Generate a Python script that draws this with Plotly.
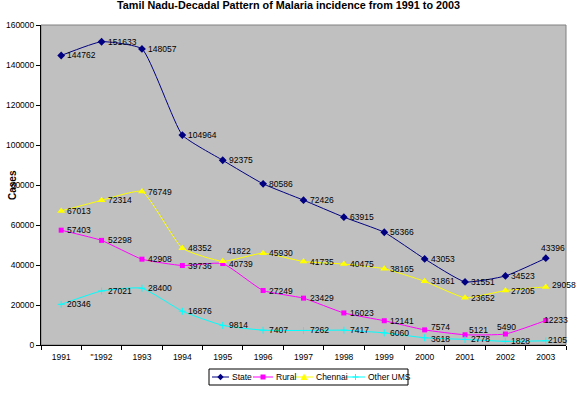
import plotly.graph_objects as go

years = ["1991", "\"1992", "1993", "1994", "1995", "1996", "1997", "1998", "1999", "2000", "2001", "2002", "2003"]
state = [144762, 151633, 148057, 104964, 92375, 80586, 72426, 63915, 56366, 43053, 31551, 34523, 43396]
rural = [57403, 52298, 42908, 39736, 40739, 27249, 23429, 16023, 12141, 7574, 5121, 5490, 12233]
chennai = [67013, 72314, 76749, 48352, 41822, 45930, 41735, 40475, 38165, 31861, 23652, 27205, 29058]
other_ums = [20346, 27021, 28400, 16876, 9814, 7407, 7262, 7417, 6060, 3618, 2778, 1828, 2105]

FONT = "Liberation Sans, Arial, sans-serif"
W, H = 577, 395
ML, MR, MT, MB = 41, 11, 25, 50
PW, PH = W - ML - MR, H - MT - MB


def px_x(px):
    return (px - ML) / PW


def px_y(py):
    return (H - MB - py) / PH


series = [
    ("State", state, "#000080", "diamond", 6),
    ("Rural", rural, "#FF00FF", "square", 5),
    ("Chennai", chennai, "#FFFF00", "triangle-up", 7),
    ("Other UMS", other_ums, "#00FFFF", "cross-thin", 5),
]

# label offsets (xshift, yshift) overrides; default right of the point
label_shift = {
    ("State", 12): (-7, 10),
    ("Rural", 9): (4, 3),
    ("Rural", 10): (2, 5),
    ("Rural", 11): (-10, 7),
    ("Rural", 12): (-4, 1),
    ("Chennai", 4): (2, 10),
    ("Chennai", 12): (4, 2),
    ("Other UMS", 9): (4, -1),
    ("Other UMS", 12): (0, 1),
}

fig = go.Figure()
annotations = []
shapes = []
for name, vals, color, sym, msize in series:
    mline = dict(width=1, color=color) if sym == "cross-thin" else dict(width=0)
    fig.add_trace(go.Scatter(
        x=years, y=vals, name=name, mode="lines+markers",
        line=dict(color=color, width=1, shape="spline", smoothing=0.45),
        marker=dict(symbol=sym, size=msize, color=color, line=mline),
        cliponaxis=False, showlegend=False,
    ))
    for i, v in enumerate(vals):
        xs, ys = label_shift.get((name, i), (4, 0))
        annotations.append(dict(
            x=i, y=v, text=str(v), showarrow=False,
            xanchor="left", yanchor="middle", xshift=xs, yshift=ys,
            font=dict(family=FONT, size=8.5, color="black"),
        ))

annotations.append(dict(
    xref="paper", yref="paper", x=0, y=0.5, xshift=-29, text="<b>Cases</b>",
    textangle=-90, showarrow=False, font=dict(family=FONT, size=10, color="black"),
    xanchor="center", yanchor="middle",
))

# custom compact legend (Excel style)
LEG_Y = 377
shapes.append(dict(type="rect", xref="paper", yref="paper",
                   x0=px_x(209), x1=px_x(408), y0=px_y(369), y1=px_y(385),
                   line=dict(color="black", width=1), fillcolor="white", layer="above"))
leg_items = [(212, 229), (253, 273), (295, 313), (346, 365)]
marker_paths = {
    "diamond": "M0,-3.2L3.2,0L0,3.2L-3.2,0Z",
    "square": "M-2.5,-2.5L2.5,-2.5L2.5,2.5L-2.5,2.5Z",
    "triangle-up": "M-3.5,-3L3.5,-3L0,3.5Z",
    "cross-thin": "M-3,0L3,0M0,-3L0,3",
}
for (name, vals, color, sym, msize), (lx0, lx1) in zip(series, leg_items):
    shapes.append(dict(type="line", xref="paper", yref="paper",
                       x0=px_x(lx0), x1=px_x(lx1), y0=px_y(LEG_Y), y1=px_y(LEG_Y),
                       line=dict(color=color, width=1), layer="above"))
    filled = sym != "cross-thin"
    shapes.append(dict(type="path", xref="paper", yref="paper",
                       xsizemode="pixel", ysizemode="pixel",
                       xanchor=px_x((lx0 + lx1) / 2), yanchor=px_y(LEG_Y),
                       path=marker_paths[sym],
                       fillcolor=color if filled else "rgba(0,0,0,0)",
                       line=dict(color=color, width=1 if not filled else 0), layer="above"))
    annotations.append(dict(xref="paper", yref="paper", x=px_x(lx1 + 1), y=px_y(LEG_Y),
                            text=name, showarrow=False, xanchor="left", yanchor="middle",
                            font=dict(family=FONT, size=8.5, color="black")))

shapes.append(dict(type="rect", xref="paper", yref="paper", x0=0, y0=0, x1=1, y1=1,
                   line=dict(color="#808080", width=1), layer="below"))

fig.update_layout(
    width=W, height=H,
    margin=dict(l=ML, r=MR, t=MT, b=MB, autoexpand=False),
    paper_bgcolor="white", plot_bgcolor="#C0C0C0",
    title=dict(text="<b>Tamil Nadu-Decadal Pattern of Malaria incidence from 1991 to 2003</b>",
               x=0.5, xanchor="center", y=1, yanchor="top", yref="container",
               pad=dict(t=1, b=0, l=0, r=0),
               font=dict(family=FONT, size=10.8, color="black")),
    font=dict(family=FONT, size=8.5, color="black"),
    annotations=annotations,
    shapes=shapes,
    showlegend=False,
)
fig.update_xaxes(
    type="category", range=[-0.5, 12.5], showgrid=False, zeroline=False,
    showline=True, linecolor="black", linewidth=1, mirror=False,
    ticks="outside", tickson="boundaries", ticklen=4, tickcolor="black",
    tickfont=dict(family=FONT, size=8.5), automargin=False, ticklabelstandoff=4,
)
fig.update_yaxes(
    range=[0, 160000], dtick=20000, showgrid=False, zeroline=False,
    showline=True, linecolor="black", linewidth=1,
    ticks="outside", ticklen=4, tickcolor="black",
    tickfont=dict(family=FONT, size=8.5), tickformat="d", automargin=False,
)

fig.write_html("out.html", config={"displayModeBar": False},
               post_script="document.body.style.margin='0';document.body.style.padding='0';")
